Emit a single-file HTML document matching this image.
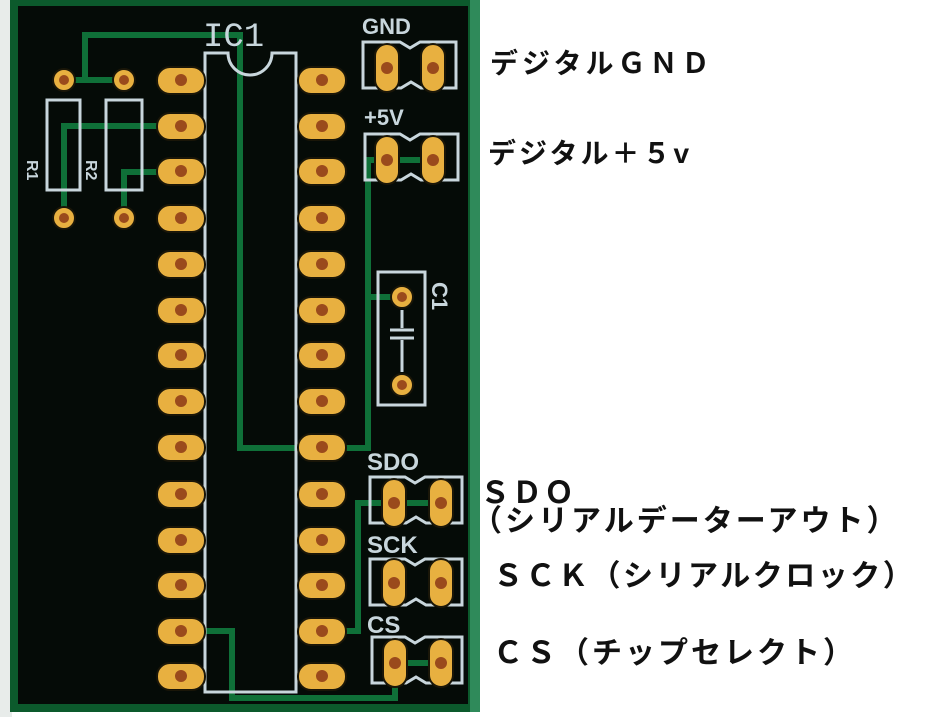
<!DOCTYPE html>
<html><head><meta charset="utf-8"><style>
html,body{margin:0;padding:0;background:#fff;width:945px;height:717px;overflow:hidden;position:relative}
svg{position:absolute;left:0;top:0}
.l{position:absolute;font-family:"Liberation Sans","Noto Sans CJK JP",sans-serif;font-weight:bold;color:#111;white-space:nowrap;line-height:1}
</style></head><body>
<svg width="945" height="717" viewBox="0 0 945 717">
<rect x="0" y="0" width="945" height="717" fill="#fff"/>
<rect x="0" y="0" width="12" height="717" fill="#e8ecea"/>
<rect x="10" y="0" width="470" height="712" fill="#0c5a2c"/>
<rect x="470" y="0" width="10" height="712" fill="#2f8a5a"/>
<rect x="18" y="6" width="450" height="698" fill="#050b07"/>
<g stroke="#0f7038" stroke-width="6" fill="none" stroke-linejoin="miter">
<polyline points="85,80 85,35 240,35 240,448 322,448 368,448 368,160 433,160"/>
<polyline points="64,80 124,80"/>
<polyline points="64,218 64,126 181,126"/>
<polyline points="124,218 124,172 181,172"/>
<polyline points="368,297 402,297"/>
<polyline points="394,503 441,503"/>
<polyline points="322,631 358,631 358,503 394,503"/>
<polyline points="181,631 232,631 232,698 395,698 395,663 441,663"/>
</g>
<g stroke="#c8d6dc" stroke-width="3" fill="none">
<path d="M205,692 V53 H228 A22,22 0 0 0 272,53 H296 V692 Z"/>
<rect x="47" y="100" width="33" height="90"/>
<rect x="106" y="100" width="36" height="90"/>
<path d="M363,88 V42 H400 L410,48 L420,42 H456 V88 H421 L411,82 L401,88 Z"/>
<path d="M365,180 V134 H400 L410,140 L420,134 H458 V180 H421 L411,174 L401,180 Z"/>
<rect x="378" y="272" width="47" height="133"/>
<path d="M402,310 V328 M390,330 H414 M390,338 H414 M402,340 V372"/>
<path d="M370,523 V477 H405 L415,483 L425,477 H462 V523 H426 L416,517 L406,523 Z"/>
<path d="M370,605 V559 H405 L415,565 L425,559 H462 V605 H426 L416,599 L406,605 Z"/>
<path d="M372,683 V637 H405 L415,643 L425,637 H462 V683 H426 L416,677 L406,683 Z"/>
</g>
<g font-family="Liberation Mono,monospace" fill="#c8d6dc">
<text x="203" y="46" font-size="34">IC1</text>
<text x="362" y="34" font-size="22" font-family="Liberation Sans,sans-serif" font-weight="bold">GND</text>
<text x="364" y="125" font-size="22" font-family="Liberation Sans,sans-serif" font-weight="bold">+5V</text>
<text x="367" y="470" font-size="24" font-family="Liberation Sans,sans-serif" font-weight="bold">SDO</text>
<text x="367" y="553" font-size="24" font-family="Liberation Sans,sans-serif" font-weight="bold">SCK</text>
<text x="367" y="633" font-size="24" font-family="Liberation Sans,sans-serif" font-weight="bold">CS</text>
<text transform="translate(432,282) rotate(90)" font-size="22" font-family="Liberation Sans,sans-serif" font-weight="bold">C1</text>
<text transform="translate(27,160) rotate(90)" font-size="16" font-family="Liberation Sans,sans-serif" font-weight="bold">R1</text>
<text transform="translate(86,160) rotate(90)" font-size="16" font-family="Liberation Sans,sans-serif" font-weight="bold">R2</text>
</g>
<g fill="#e8b040" stroke="#1a1608" stroke-width="2">
<circle cx="64" cy="80" r="11"/><circle cx="124" cy="80" r="11"/>
<circle cx="64" cy="218" r="11"/><circle cx="124" cy="218" r="11"/>
<circle cx="402" cy="297" r="11"/><circle cx="402" cy="385" r="11"/>
</g>
<g fill="#e8b040" stroke="#1a1608" stroke-width="2">
<rect x="157" y="67" width="48" height="27" rx="13"/><rect x="298" y="67" width="48" height="27" rx="13"/>
<rect x="157" y="113" width="48" height="27" rx="13"/><rect x="298" y="113" width="48" height="27" rx="13"/>
<rect x="157" y="158" width="48" height="27" rx="13"/><rect x="298" y="158" width="48" height="27" rx="13"/>
<rect x="157" y="205" width="48" height="27" rx="13"/><rect x="298" y="205" width="48" height="27" rx="13"/>
<rect x="157" y="251" width="48" height="27" rx="13"/><rect x="298" y="251" width="48" height="27" rx="13"/>
<rect x="157" y="297" width="48" height="27" rx="13"/><rect x="298" y="297" width="48" height="27" rx="13"/>
<rect x="157" y="342" width="48" height="27" rx="13"/><rect x="298" y="342" width="48" height="27" rx="13"/>
<rect x="157" y="388" width="48" height="27" rx="13"/><rect x="298" y="388" width="48" height="27" rx="13"/>
<rect x="157" y="434" width="48" height="27" rx="13"/><rect x="298" y="434" width="48" height="27" rx="13"/>
<rect x="157" y="481" width="48" height="27" rx="13"/><rect x="298" y="481" width="48" height="27" rx="13"/>
<rect x="157" y="527" width="48" height="27" rx="13"/><rect x="298" y="527" width="48" height="27" rx="13"/>
<rect x="157" y="572" width="48" height="27" rx="13"/><rect x="298" y="572" width="48" height="27" rx="13"/>
<rect x="157" y="618" width="48" height="27" rx="13"/><rect x="298" y="618" width="48" height="27" rx="13"/>
<rect x="157" y="663" width="48" height="27" rx="13"/><rect x="298" y="663" width="48" height="27" rx="13"/>
<rect x="375" y="44" width="24" height="48" rx="12"/><rect x="421" y="44" width="24" height="48" rx="12"/>
<rect x="375" y="136" width="24" height="48" rx="12"/><rect x="421" y="136" width="24" height="48" rx="12"/>
<rect x="382" y="479" width="24" height="48" rx="12"/><rect x="429" y="479" width="24" height="48" rx="12"/>
<rect x="382" y="559" width="24" height="48" rx="12"/><rect x="429" y="559" width="24" height="48" rx="12"/>
<rect x="383" y="639" width="24" height="48" rx="12"/><rect x="429" y="639" width="24" height="48" rx="12"/>
</g>
<g fill="#9a4a1c">
<circle cx="64" cy="80" r="5"/><circle cx="124" cy="80" r="5"/><circle cx="64" cy="218" r="5"/><circle cx="124" cy="218" r="5"/>
<circle cx="402" cy="297" r="5"/><circle cx="402" cy="385" r="5"/>
<circle cx="181" cy="80" r="6"/><circle cx="322" cy="80" r="6"/>
<circle cx="181" cy="126" r="6"/><circle cx="322" cy="126" r="6"/>
<circle cx="181" cy="171" r="6"/><circle cx="322" cy="171" r="6"/>
<circle cx="181" cy="218" r="6"/><circle cx="322" cy="218" r="6"/>
<circle cx="181" cy="264" r="6"/><circle cx="322" cy="264" r="6"/>
<circle cx="181" cy="310" r="6"/><circle cx="322" cy="310" r="6"/>
<circle cx="181" cy="355" r="6"/><circle cx="322" cy="355" r="6"/>
<circle cx="181" cy="401" r="6"/><circle cx="322" cy="401" r="6"/>
<circle cx="181" cy="447" r="6"/><circle cx="322" cy="447" r="6"/>
<circle cx="181" cy="494" r="6"/><circle cx="322" cy="494" r="6"/>
<circle cx="181" cy="540" r="6"/><circle cx="322" cy="540" r="6"/>
<circle cx="181" cy="585" r="6"/><circle cx="322" cy="585" r="6"/>
<circle cx="181" cy="631" r="6"/><circle cx="322" cy="631" r="6"/>
<circle cx="181" cy="676" r="6"/><circle cx="322" cy="676" r="6"/>
<circle cx="387" cy="68" r="6"/><circle cx="433" cy="68" r="6"/>
<circle cx="387" cy="160" r="6"/><circle cx="433" cy="160" r="6"/>
<circle cx="394" cy="503" r="6"/><circle cx="441" cy="503" r="6"/>
<circle cx="394" cy="583" r="6"/><circle cx="441" cy="583" r="6"/>
<circle cx="395" cy="663" r="6"/><circle cx="441" cy="663" r="6"/>
</g>
</svg>
<div class="l" style="left:490px;top:50px;font-size:28px;letter-spacing:4px">デジタルＧＮＤ</div>
<div class="l" style="left:488px;top:140px;font-size:28px;letter-spacing:3px">デジタル＋５v</div>
<div class="l" style="left:480px;top:479px;font-size:30px;letter-spacing:2px">ＳＤＯ</div>
<div class="l" style="left:472px;top:507px;font-size:30px;letter-spacing:3px">（シリアルデーターアウト）</div>
<div class="l" style="left:493px;top:562px;font-size:30px;letter-spacing:2.5px">ＳＣＫ（シリアルクロック）</div>
<div class="l" style="left:493px;top:639px;font-size:30px;letter-spacing:3px">ＣＳ（チップセレクト）</div>
</body></html>
